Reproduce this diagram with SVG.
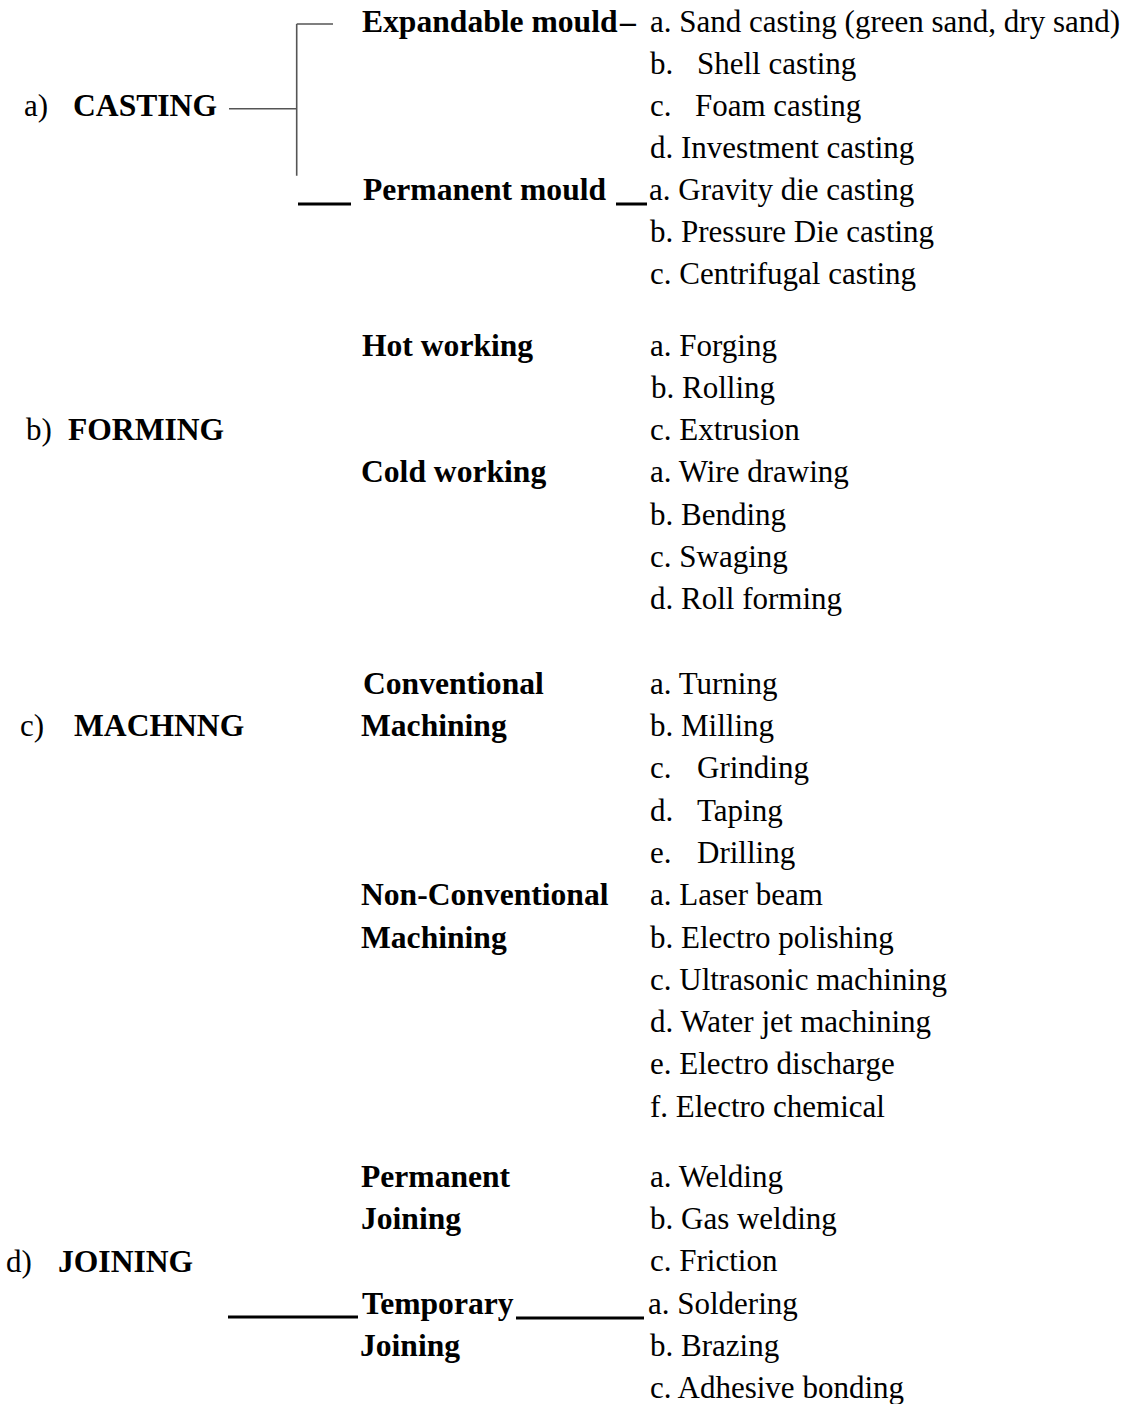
<svg xmlns="http://www.w3.org/2000/svg" width="1146" height="1404" viewBox="0 0 1146 1404">
<style>
text{font-family:"Liberation Serif","Times New Roman",serif;font-size:31px;fill:#000}
.b{font-weight:bold;font-size:31.6px}
.thin{stroke:#555;stroke-width:1.6;fill:none}
.bar{stroke:#000;stroke-width:3;fill:none}
</style>
<rect width="1146" height="1404" fill="#fff"/>
<g id="connectors">
<path class="thin" d="M229 108.7H296.7M296.7 24V175.7M296.7 24H333"/>
<path class="bar" d="M298 204H351M616 204H647M228 1317H358M516 1318H644"/>
</g>
<g id="casting">
<text x="24" y="116">a)</text><text class="b" x="73" y="116">CASTING</text>
</g>
<g id="expandable">
<text class="b" x="362" y="32">Expandable mould</text><text class="b" x="620" y="32">–</text>
<text x="650" y="32">a. Sand casting (green sand, dry sand)</text>
<text x="650" y="74">b.</text><text x="697" y="74">Shell casting</text>
<text x="650" y="116">c.</text><text x="695" y="116">Foam casting</text>
<text x="650" y="158">d. Investment casting</text>
</g>
<g id="permanent-mould">
<text class="b" x="363" y="200">Permanent mould</text>
<text x="649" y="200">a. Gravity die casting</text>
<text x="650" y="242">b. Pressure Die casting</text>
<text x="650" y="284">c. Centrifugal casting</text>
</g>
<g id="forming">
<text x="26" y="440">b)</text><text class="b" x="68" y="440">FORMING</text>
</g>
<g id="hot-working">
<text class="b" x="362" y="356">Hot working</text>
<text x="650" y="356">a. Forging</text>
<text x="651" y="398">b. Rolling</text>
<text x="650" y="440">c. Extrusion</text>
</g>
<g id="cold-working">
<text class="b" x="361" y="482">Cold working</text>
<text x="650" y="482">a. Wire drawing</text>
<text x="650" y="525">b. Bending</text>
<text x="650" y="567">c. Swaging</text>
<text x="650" y="609">d. Roll forming</text>
</g>
<g id="machining">
<text x="20" y="736">c)</text><text class="b" x="74" y="736">MACHNNG</text>
</g>
<g id="conventional">
<text class="b" x="363" y="694">Conventional</text>
<text class="b" x="361" y="736">Machining</text>
<text x="650" y="694">a. Turning</text>
<text x="650" y="736">b. Milling</text>
<text x="650" y="778">c.</text><text x="697" y="778">Grinding</text>
<text x="650" y="821">d.</text><text x="697" y="821">Taping</text>
<text x="650" y="863">e.</text><text x="697" y="863">Drilling</text>
</g>
<g id="non-conventional">
<text class="b" x="361" y="905">Non-Conventional</text>
<text class="b" x="361" y="948">Machining</text>
<text x="650" y="905">a. Laser beam</text>
<text x="650" y="948">b. Electro polishing</text>
<text x="650" y="990">c. Ultrasonic machining</text>
<text x="650" y="1032">d. Water jet machining</text>
<text x="650" y="1074">e. Electro discharge</text>
<text x="650" y="1117">f. Electro chemical</text>
</g>
<g id="joining">
<text x="6" y="1272">d)</text><text class="b" x="58" y="1272">JOINING</text>
</g>
<g id="permanent-joining">
<text class="b" x="361" y="1187">Permanent</text>
<text class="b" x="361" y="1229">Joining</text>
<text x="650" y="1187">a. Welding</text>
<text x="650" y="1229">b. Gas welding</text>
<text x="650" y="1271">c. Friction</text>
</g>
<g id="temporary-joining">
<text class="b" x="362" y="1314">Temporary</text>
<text class="b" x="360" y="1356">Joining</text>
<text x="648" y="1314">a. Soldering</text>
<text x="650" y="1356">b. Brazing</text>
<text x="650" y="1398">c. Adhesive bonding</text>
</g>
</svg>
